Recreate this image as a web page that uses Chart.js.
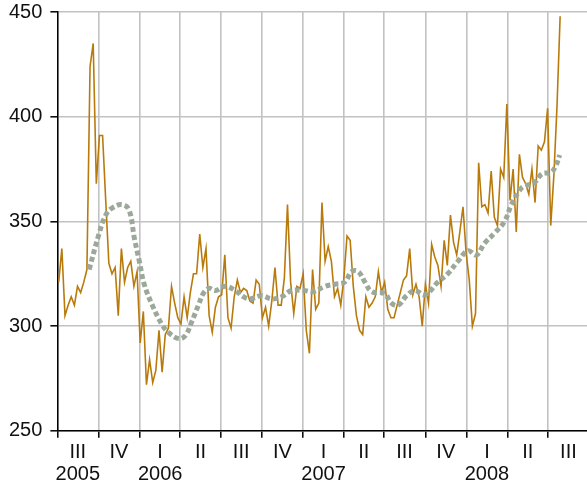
<!DOCTYPE html>
<html>
<head>
<meta charset="utf-8">
<script src="https://cdn.jsdelivr.net/npm/chart.js@4/dist/chart.umd.min.js"></script>
<style>
  html, body { margin: 0; padding: 0; background: #ffffff; }
  #wrap { width: 587px; height: 485px; }
</style>
</head>
<body>
<div id="wrap"><canvas id="c" width="587" height="485"></canvas></div>
<script>
// ---- data ----
const weeklyStart = '2005-07-04';
const weeklyValues = [
  321, 337, 305, 310, 314, 310, 319, 316, 321, 327,
  424, 435, 368, 391, 391, 360, 330, 325, 328, 305,
  337, 321, 328, 331, 319, 326, 292, 307, 272, 284,
  273, 279, 298, 278, 296, 299, 319, 311, 304, 301,
  314, 304, 316, 325, 325, 344, 328, 337, 305, 297,
  309, 314, 315, 334, 304, 299, 314, 322, 316, 318,
  317, 312, 311, 322, 320, 304, 309, 300, 312, 328,
  310, 310, 323, 358, 321, 306, 319, 318, 325, 298,
  287, 327, 308, 311, 359, 331, 338, 331, 314, 318,
  310, 323, 343, 341, 319, 305, 298, 296, 314, 309,
  311, 314, 326, 316, 321, 308, 304, 304, 310, 316,
  322, 324, 337, 315, 320, 314, 300, 320, 311, 339,
  333, 329, 319, 341, 329, 353, 340, 334, 345, 357,
  335, 322, 300, 306, 378, 357, 358, 354, 374, 352,
  348, 375, 371, 406, 360, 375, 345, 382, 371, 368,
  363, 375, 359, 386, 384, 388, 404, 348, 372, 405,
  448
];
// smoothed trend: day offset from 2005-07-01 and value
const trendDays = [
  71, 93, 108, 123, 145, 160, 172, 183, 194, 212,
  233, 248, 271, 286, 300, 315, 327, 338, 353, 375,
  397, 416, 430, 456, 479, 501, 523, 550, 572, 598,
  620, 642, 657, 672, 687, 702, 731, 746, 761, 780,
  798, 821, 850, 872, 895, 917, 936, 954, 977, 999,
  1014, 1033, 1042, 1065, 1083, 1102, 1113, 1122
];
const trendValues = [
  327, 344, 353, 356.5, 358, 355.5, 342, 331, 320, 310,
  301, 297, 294, 295.5, 302, 310, 316, 318, 317, 319,
  317, 314, 313, 314.5, 313, 314, 317, 317, 316.5, 319,
  320, 321, 326, 326, 321, 316.5, 315.5, 311, 310, 314.5,
  317, 315, 321, 325, 331, 336, 334, 339.5, 344.5, 350,
  358, 365, 366.8, 368.4, 372.8, 373.3, 376.4, 381.7
];
const quarterStarts = [
  '2005-07-01', '2005-10-01', '2006-01-01', '2006-04-01', '2006-07-01',
  '2006-10-01', '2007-01-01', '2007-04-01', '2007-07-01', '2007-10-01',
  '2008-01-01', '2008-04-01', '2008-07-01'
];
const quarterLabels = ['III', 'IV', 'I', 'II', 'III', 'IV', 'I', 'II', 'III', 'IV', 'I', 'II', 'III'];
const yearLabels = ['2005', '', '2006', '', '', '', '2007', '', '', '', '2008', '', ''];
const axisStart = '2005-07-01';
const axisEnd = '2008-09-26';
const yTicks = [250, 300, 350, 400, 450];

// ---- helpers ----
const DAY = 86400000;
function toUTC(s) { const p = s.split('-').map(Number); return Date.UTC(p[0], p[1] - 1, p[2]); }
const origin = toUTC(axisStart);
function dayOf(s) { return (toUTC(s) - origin) / DAY; }

const firstDay = dayOf(weeklyStart);
const weeklyPoints = weeklyValues.map((v, i) => ({ x: firstDay + 7 * i, y: v }));
const trendPoints = trendValues.map((v, i) => ({ x: trendDays[i], y: v }));
const quarterDays = quarterStarts.map(dayOf);

const FONT = { family: "'Liberation Sans', Arial, sans-serif", size: 20 };

new Chart(document.getElementById('c'), {
  type: 'line',
  data: {
    datasets: [
      {
        data: trendPoints,
        borderColor: '#9ca99a',
        borderWidth: 5,
        borderDash: [5, 3],
        borderCapStyle: 'butt',
        pointRadius: 0,
        tension: 0.4,
        fill: false,
        order: 0
      },
      {
        data: weeklyPoints,
        borderColor: '#b97a0c',
        borderWidth: 1.6,
        pointRadius: 0,
        tension: 0,
        fill: false,
        order: 1
      }
    ]
  },
  options: {
    responsive: false,
    animation: false,
    devicePixelRatio: 1,
    layout: { padding: { left: 1, right: 0, top: 0, bottom: -4 } },
    plugins: { legend: { display: false }, tooltip: { enabled: false }, title: { display: false } },
    scales: {
      x: {
        type: 'linear',
        min: dayOf(axisStart),
        max: dayOf(axisEnd),
        afterBuildTicks: (scale) => { scale.ticks = quarterDays.map(v => ({ value: v })); },
        grid: {
          color: '#c2c2c2',
          lineWidth: 1.6,
          drawTicks: true,
          tickLength: 7,
          tickColor: '#000000',
          tickWidth: 1.5
        },
        border: { display: true, color: '#000000', width: 1.5 },
        ticks: {
          autoSkip: false,
          maxRotation: 0,
          minRotation: 0,
          padding: 4,
          labelOffset: 20.4,
          color: '#111111',
          font: Object.assign({}, FONT, { lineHeight: 1.08 }),
          callback: (value, index) => [quarterLabels[index], yearLabels[index]]
        }
      },
      y: {
        min: yTicks[0],
        max: yTicks[yTicks.length - 1],
        afterBuildTicks: (scale) => { scale.ticks = yTicks.map(v => ({ value: v })); },
        grid: {
          color: '#c2c2c2',
          lineWidth: 1.6,
          tickLength: 7,
          tickColor: '#000000',
          tickWidth: 1.5
        },
        border: { display: true, color: '#000000', width: 1.5 },
        ticks: {
          padding: 8,
          color: '#111111',
          font: Object.assign({}, FONT, { lineHeight: 0.4 })
        }
      }
    }
  }
});
</script>
</body>
</html>
